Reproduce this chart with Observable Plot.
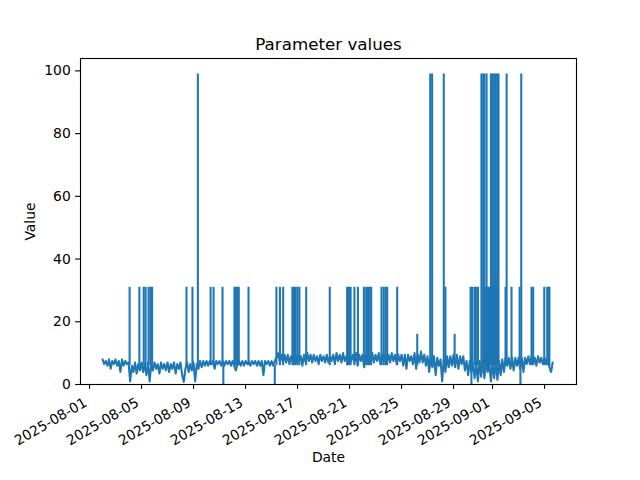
<!DOCTYPE html>
<html><head><meta charset="utf-8">
<script src="https://cdn.jsdelivr.net/npm/d3@7"></script>
<script src="https://cdn.jsdelivr.net/npm/@observablehq/plot@0.6"></script>
<style>html,body{margin:0;padding:0;background:#fff}</style>
</head><body><div id="chart"></div>
<script>
const chartTitle = "Parameter values";
const xLabel = "Date";
const yLabel = "Value";

// Baseline readings, one every 3 hours starting 2025-08-02 00:00
const baseStart = "2025-08-02T00:00:00Z";
const baseStepHours = 3;
const baseValues = [
  8, 6.5, 7.5, 6, 8, 5, 7.5, 6.5,
  8, 6, 7.5, 4, 8, 6, 7.5, 6.5,
  7, 1, 6, 4, 7, 3.5, 6.5, 4.5,
  7, 4, 6.5, 3, 7, 1, 6.5, 4.5,
  7, 5, 6.5, 3.5, 7, 5, 6.5, 4.5,
  7, 4, 6.5, 5, 7, 3.5, 6.5, 5,
  7, 3, 0.8, 5, 7, 4, 6.5, 4.5,
  7, 1, 6.5, 5, 7.5, 5.5, 7.5, 6,
  7.5, 6, 7.5, 6.5, 7.5, 5, 7.5, 6.5,
  7.5, 6, 7.5, 6, 7.5, 6.5, 7.5, 6,
  7.5, 6, 4.5, 6.5, 7.5, 6, 7.5, 6,
  7.5, 6.5, 7.5, 6, 7.5, 6.5, 7.5, 6,
  7.5, 6, 7.5, 3, 7.5, 6.5, 7.5, 6,
  7.5, 6, 7.5, 8.5, 10, 7.5, 9.5, 7,
  9.5, 7, 9.5, 6.5, 9, 7.5, 9.5, 7,
  9.5, 7.5, 9, 6, 9.5, 7, 10, 7.5,
  9.5, 7, 9.5, 7.5, 9, 6.5, 9.5, 7.5,
  9, 7, 9.5, 7, 9, 7.5, 9.5, 6.5,
  10, 7.5, 9.5, 7, 10, 7.5, 9, 6.5,
  9.5, 7.5, 9.5, 7, 10, 6, 9.5, 7.5,
  9.5, 5.5, 9.5, 7.5, 9.5, 7, 10, 7,
  9.5, 7.5, 10, 6.5, 9.5, 7.5, 9.5, 7,
  9.5, 7, 10, 7.5, 9.5, 6.5, 9.5, 7.5,
  9.5, 6, 9.5, 5, 9.5, 7.5, 9, 6.5,
  10, 5, 9.5, 7, 10.5, 7, 9.5, 6,
  9, 4, 8.5, 5.5, 9, 3, 8.5, 6,
  8, 1, 8, 4, 9, 5.5, 9, 6,
  9.5, 5.5, 9.5, 5, 9, 6.5, 9, 4.5,
  7.5, 3, 7.5, 4, 6.5, 2, 7, 1,
  7.5, 2.5, 8, 2, 7.5, 4, 7, 1,
  7, 2, 7.5, 1.5, 7.5, 3, 8, 4,
  8.5, 6, 8.5, 5, 8.5, 4.5, 8.5, 6,
  8.5, 5, 8.5, 4, 8.5, 6.5, 9, 6.5,
  9, 6.5, 8.5, 6, 9, 7, 8.5, 6.5,
  8.5, 6.5, 8.5, 5.5, 4, 7
];

// Short excursions (single readings) away from the baseline
const spikeDates = [
  "2025-08-04T02:00", "2025-08-04T20:00", "2025-08-05T04:00", "2025-08-05T07:30",
  "2025-08-05T13:00", "2025-08-05T16:30", "2025-08-05T19:30", "2025-08-08T11:00",
  "2025-08-08T22:00", "2025-08-09T08:00", "2025-08-10T07:30", "2025-08-10T13:00",
  "2025-08-11T05:30", "2025-08-11T07:00", "2025-08-12T03:30", "2025-08-12T06:30",
  "2025-08-12T09:00", "2025-08-12T11:30", "2025-08-13T05:30", "2025-08-15T06:00",
  "2025-08-15T09:00", "2025-08-15T15:30", "2025-08-15T21:30", "2025-08-16T14:30",
  "2025-08-16T17:30", "2025-08-16T20:30", "2025-08-17T00:00", "2025-08-17T03:30",
  "2025-08-17T16:00", "2025-08-19T11:30", "2025-08-20T19:30", "2025-08-20T23:00",
  "2025-08-21T02:00", "2025-08-21T09:00", "2025-08-21T15:30", "2025-08-22T02:30",
  "2025-08-22T06:45", "2025-08-22T10:00", "2025-08-22T13:00", "2025-08-22T16:00",
  "2025-08-23T11:00", "2025-08-23T15:00", "2025-08-23T18:30", "2025-08-23T21:30",
  "2025-08-24T16:00", "2025-08-26T05:00", "2025-08-27T05:00", "2025-08-27T08:30",
  "2025-08-28T06:00", "2025-08-28T09:00", "2025-08-29T02:00", "2025-08-30T07:30",
  "2025-08-30T09:00", "2025-08-30T10:00", "2025-08-30T14:30", "2025-08-30T17:15",
  "2025-08-30T21:00", "2025-08-31T03:30", "2025-08-31T06:45", "2025-08-31T09:00",
  "2025-08-31T11:00", "2025-08-31T13:00", "2025-08-31T15:30", "2025-08-31T18:00",
  "2025-08-31T21:00", "2025-08-31T22:45", "2025-09-01T00:00", "2025-09-01T01:30",
  "2025-09-01T03:00", "2025-09-01T04:15", "2025-09-01T05:30", "2025-09-01T07:15",
  "2025-09-01T08:30", "2025-09-01T09:30", "2025-09-01T11:00", "2025-09-02T00:00",
  "2025-09-02T02:00", "2025-09-02T11:00", "2025-09-03T02:00", "2025-09-03T03:30",
  "2025-09-03T05:00", "2025-09-04T00:00", "2025-09-04T03:00", "2025-09-04T23:30",
  "2025-09-05T05:00", "2025-09-05T07:30", "2025-09-05T09:00"
];
const spikeValues = [
  31, 31, 31, 31,
  31, 31, 31, 31,
  31, 99, 31, 31,
  31, 0, 31, 31,
  31, 31, 31, 0,
  31, 31, 31, 31,
  31, 31, 31, 31,
  31, 31, 31, 31,
  31, 31, 31, 31,
  31, 31, 31, 31,
  31, 31, 31, 31,
  31, 16, 99, 99,
  99, 31, 16, 31,
  0, 31, 31, 31,
  31, 99, 99, 99,
  31, 99, 31, 31,
  99, 31, 99, 31,
  99, 31, 99, 31,
  99, 31, 99, 31,
  99, 31, 31, 0,
  99, 31, 31, 31,
  31, 31, 31
];
const spikeFrom = 6;

const xTickDates = ["2025-08-01", "2025-08-05", "2025-08-09", "2025-08-13", "2025-08-17",
  "2025-08-21", "2025-08-25", "2025-08-29", "2025-09-01", "2025-09-05"];
const yTicks = [0, 20, 40, 60, 80, 100];
const xDomain = ["2025-07-31T07:20:00Z", "2025-09-07T11:00:00Z"];
const yDomain = [0, 103.95];

const parse = s => new Date(s.length === 10 ? s + "T00:00:00Z" : (s.endsWith("Z") ? s : s + ":00Z"));
const t0 = new Date(baseStart).getTime();
const baseData = baseValues.map((v, i) => ({date: new Date(t0 + i * baseStepHours * 3600e3), value: v}));
const spikeData = spikeDates.map((d, i) => ({date: parse(d), value: spikeValues[i]}));
const ticks = xTickDates.map(parse);

const blue = "#1f77b4";
const fmt = d3.utcFormat("%Y-%m-%d");
const lw = 2.08;   // 1.5pt at 100 dpi
const axw = 1.11;  // 0.8pt
const tick = 4.86; // 3.5pt

const plot = Plot.plot({
  width: 640,
  height: 480,
  marginLeft: 80,
  marginRight: 64,
  marginTop: 58,
  marginBottom: 96,
  style: {fontFamily: "DejaVu Sans, sans-serif", fontSize: "13.9px", background: "#fff", overflow: "visible"},
  x: {type: "utc", domain: xDomain.map(s => new Date(s))},
  y: {domain: yDomain},
  marks: [
    Plot.line(baseData, {x: "date", y: "value", stroke: blue, strokeWidth: lw, strokeLinejoin: "round"}),
    Plot.ruleX(spikeData, {x: "date", y1: spikeFrom, y2: "value", stroke: blue, strokeWidth: lw}),
    Plot.frame({stroke: "black", strokeWidth: axw}),
    Plot.axisX({ticks, tickSize: tick, fill: "none", stroke: "black", strokeWidth: axw, label: null}),
    Plot.axisX({ticks, tickSize: 0, tickPadding: 12.3, tickFormat: fmt, tickRotate: -30,
      textAnchor: "end", lineAnchor: "top", dx: -6.6, fill: "black", label: null, fontSize: 13.9}),
    Plot.axisY({ticks: yTicks, tickSize: tick, tickPadding: 4.86, stroke: "black", strokeWidth: axw,
      fill: "black", label: null, fontSize: 13.9}),
    Plot.text([chartTitle], {frameAnchor: "top", lineAnchor: "middle", textAnchor: "middle", dy: -13.6, fontSize: 16.7, fill: "black"}),
    Plot.text([xLabel], {frameAnchor: "bottom", lineAnchor: "middle", textAnchor: "middle", dy: 73.5, fontSize: 13.9, fill: "black"}),
    Plot.text([yLabel], {frameAnchor: "left", lineAnchor: "middle", textAnchor: "middle", dx: -50, rotate: -90, fontSize: 13.9, fill: "black"})
  ]
});
document.getElementById("chart").appendChild(plot);
</script>
</body></html>
